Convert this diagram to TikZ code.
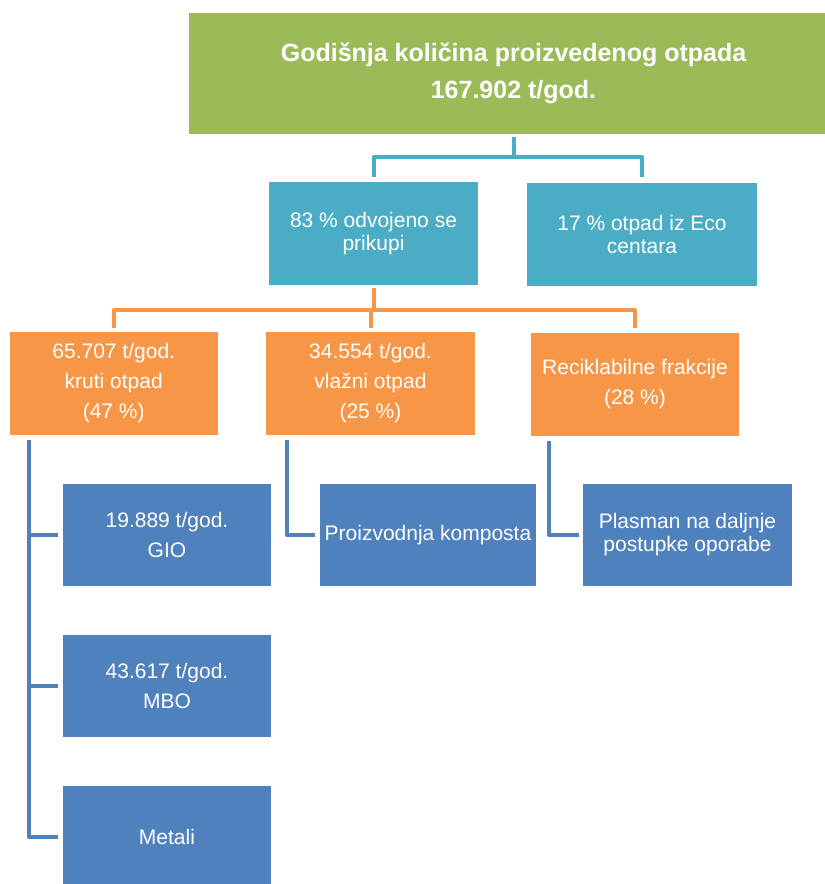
\documentclass[tikz,border=0pt]{standalone}
\usepackage{fontspec}
\setmainfont{Liberation Sans}
\definecolor{otpadGreen}{HTML}{9BBB59}
\definecolor{otpadTeal}{HTML}{4BACC6}
\definecolor{otpadOrange}{HTML}{F79646}
\definecolor{otpadBlue}{HTML}{4F81BD}
\tikzset{
  box/.style={rectangle, inner sep=0pt, text=white, align=center,
    font=\fontsize{21}{23}\selectfont},
  greenbox/.style={box, fill=otpadGreen, font=\fontsize{25}{28}\selectfont\bfseries},
  tealbox/.style={box, fill=otpadTeal, minimum height=103pt},
  orangebox/.style={box, fill=otpadOrange, minimum width=208.5pt, minimum height=103pt},
  bluebox/.style={box, fill=otpadBlue, minimum height=102pt},
  conn/.style={line width=4pt, line join=round},
}
\begin{document}
\begin{tikzpicture}[x=1pt,y=-1pt]
\useasboundingbox (0,0) rectangle (825,884);
% top
\node[greenbox, minimum width=649pt, minimum height=121pt] (total) at (513.5,73.5)
  {Godišnja količina proizvedenog otpada\\[9pt]167.902 t/god.};
\node[tealbox, minimum width=209pt] (odvojeno) at (373.5,233.5) {83 \% odvojeno se\\prikupi};
\node[tealbox, minimum width=230pt] (eco) at (642,234) {17 \% otpad iz Eco\\centara};
% fractions
\node[orangebox] (kruti) at (113.75,383.5) {65.707 t/god.\\[7pt]kruti otpad\\[7pt](47 \%)};
\node[orangebox] (vlazni) at (370.5,383.5) {34.554 t/god.\\[7pt]vlažni otpad\\[7pt](25 \%)};
\node[orangebox] (reciklabilne) at (635,384) {Reciklabilne frakcije\\[7pt](28 \%)};
% treatment
\node[bluebox, minimum width=208pt] (gio) at (167,535) {19.889 t/god.\\[7pt]GIO};
\node[bluebox, minimum width=208pt] (mbo) at (167,685.5) {43.617 t/god.\\[7pt]MBO};
\node[bluebox, minimum width=208pt] (metali) at (167,837) {Metali};
\node[bluebox, minimum width=216pt] (kompost) at (428,535) {Proizvodnja komposta};
\node[bluebox, minimum width=209pt] (plasman) at (687.5,535) {Plasman na daljnje\\postupke oporabe};
% connectors
\draw[conn, otpadTeal, shorten <=3pt, shorten >=5pt] (total.south) -- ++(0,23) -| (odvojeno.north);
\draw[conn, otpadTeal, shorten <=3pt, shorten >=5pt] (total.south) -- ++(0,23) -| (eco.north);
\foreach \frac in {kruti, vlazni, reciklabilne}{
  \draw[conn, otpadOrange, shorten <=3pt, shorten >=4pt] (odvojeno.south) -- ++(0,25) -| (\frac.north);
}
\coordinate (krutiTrunk) at ([xshift=19.5pt]kruti.south west);
\coordinate (vlazniTrunk) at ([xshift=21pt]vlazni.south west);
\coordinate (reciklTrunk) at ([xshift=18pt]reciklabilne.south west);
\foreach \dest in {gio, mbo, metali}{
  \draw[conn, otpadBlue, shorten <=5pt, shorten >=5pt] (krutiTrunk) |- (\dest.west);
}
\draw[conn, otpadBlue, shorten <=5pt, shorten >=5pt] (vlazniTrunk) |- (kompost.west);
\draw[conn, otpadBlue, shorten <=5pt, shorten >=4pt] (reciklTrunk) |- (plasman.west);
\end{tikzpicture}
\end{document}
